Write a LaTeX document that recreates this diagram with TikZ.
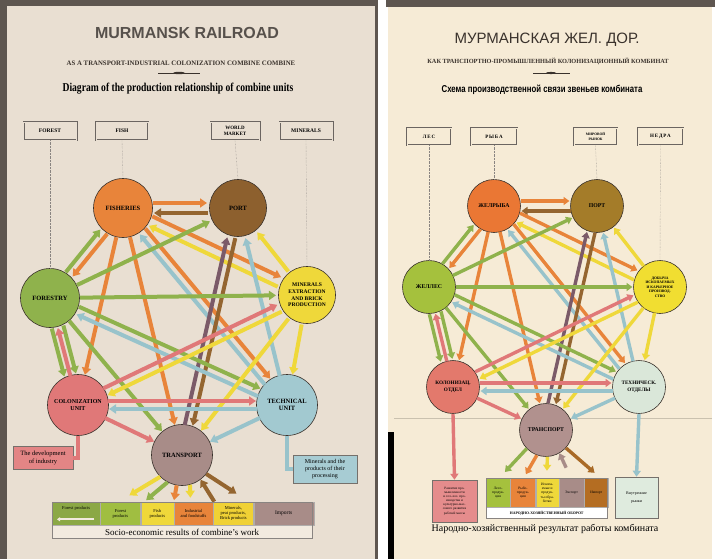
\documentclass[tikz,border=0pt]{standalone}
\usepackage{fontspec}
\setmainfont{Liberation Serif}
\newfontfamily\headfont{Liberation Sans}
\usetikzlibrary{arrows.meta,positioning,calc}

\definecolor{scan}{HTML}{5E5650}
\definecolor{pageL}{HTML}{E9DFD2}
\definecolor{pageR}{HTML}{F6EBD6}
\definecolor{ink}{HTML}{3A322C}
\definecolor{cOrange}{HTML}{E8843A}
\definecolor{cBrown}{HTML}{946530}
\definecolor{cPlum}{HTML}{7B5A68}
\definecolor{cGreen}{HTML}{8FB24C}
\definecolor{cGreenD}{HTML}{8BA845}
\definecolor{cYellow}{HTML}{EFD83A}
\definecolor{cPink}{HTML}{E07878}
\definecolor{cBlue}{HTML}{98C3CB}
\definecolor{cMauve}{HTML}{A88C88}
\definecolor{cream}{HTML}{F2EADF}

% arrows between the seven units, #1 = page prefix (L or R)
\newcommand{\unitlinks}[1]{%
  \foreach \src/\dst/\col/\off in {
      fish/port/cOrange/5pt, port/fish/cBrown/5pt,
      fish/wood/cOrange/4pt, wood/fish/cGreen/4pt,
      fish/colon/cOrange/0pt, fish/trans/cOrange/0pt,
      fish/tech/cOrange/4pt, tech/fish/cBlue/4pt,
      fish/mine/cOrange/5pt, mine/fish/cYellow/5pt,
      port/trans/cBrown/4pt, trans/port/cPlum/4pt,
      tech/port/cBlue/0pt, mine/port/cYellow/0pt, wood/port/cGreen/0pt,
      wood/mine/cGreen/0pt,
      wood/colon/cGreen/6pt, colon/wood/cPink/0pt, wood/colon/cGreen/-6pt,
      wood/tech/cGreen/4pt, tech/wood/cBlue/4pt, wood/trans/cGreen/0pt,
      mine/colon/cYellow/4pt, colon/mine/cPink/4pt,
      mine/trans/cYellow/0pt, mine/tech/cYellow/0pt,
      colon/tech/cPink/4pt, tech/colon/cBlue/4pt,
      colon/trans/cPink/0pt, tech/trans/cBlue/0pt}
    \draw[link=\col] ($(#1\src)!\off!90:(#1\dst)$) -- ($(#1\dst)!\off!-90:(#1\src)$);%
}

\begin{document}
\begin{tikzpicture}[x=1pt, y=-1pt,
  unit/.style={circle, draw=ink, line width=0.6pt, minimum size=59pt, inner sep=0pt,
               align=center, font=\fontsize{6.5}{7.5}\selectfont\bfseries},
  runit/.style={unit, minimum size=53pt, font=\fontsize{5.8}{6.8}\selectfont\bfseries},
  srcbox/.style={draw=ink!75, double=pageL, double distance=0.9pt, line width=0.55pt,
                 minimum width=53pt, minimum height=18pt, inner sep=1pt, align=center,
                 font=\fontsize{5.5}{6}\selectfont\bfseries},
  guide/.style={densely dotted, ink!60, line width=0.4pt},
  note/.style={draw=ink!70, line width=0.5pt, align=center, inner sep=1.5pt,
               font=\fontsize{6.5}{7.5}\selectfont},
  cell/.style={draw=ink!40, line width=0.3pt, minimum height=23pt, inner sep=0.5pt,
               align=center, font=\fontsize{4.5}{5}\selectfont},
  rcell/.style={cell, minimum height=29pt, font=\fontsize{3.6}{4.2}\selectfont},
  link/.style={draw=#1, line width=4pt, -{Triangle[width=9pt,length=7pt]},
               shorten <=30pt, shorten >=31pt},
  spout/.style={draw=#1, line width=4pt, -{Triangle[width=9pt,length=7pt]}},
  bar/.style={draw=#1, line width=4pt},
]
\useasboundingbox (0,0) rectangle (715,559);

%% ---- the two scanned pages -------------------------------------------------
\fill[white] (0,0) rectangle (715,559);
\fill[scan] (0,0) rectangle (378,559);
\fill[pageL] (7,6) rectangle (375,559);
\fill[scan] (386,0) rectangle (715,7);
\fill[pageR] (388,7) rectangle (712,559);
\fill[black] (388,432) rectangle (394,559);
\draw[pageR!82!black, line width=0.6pt] (394,418) -- (712,418);

%% ==== English page =========================================================
\node[font=\headfont\fontsize{16}{18}\selectfont\bfseries, text=ink!85] (Ltitle) at (187,33) {MURMANSK RAILROAD};
\node[font=\fontsize{6.8}{8}\selectfont\bfseries, text=ink] (Lsub) at (181,63)
  {AS A TRANSPORT-INDUSTRIAL COLONIZATION COMBINE COMBINE};
\draw[ink, line width=0.5pt] (158,73) -- (200,73);
\fill[ink] (179,73) ellipse (6pt and 1.2pt);
\node[font=\fontsize{12}{14}\selectfont\bfseries] (Lhead) at (178,89)
  {\scalebox{0.8}[1]{Diagram of the production relationship of combine units}};

%% ---- sources ----
\node[srcbox] (Lforest) at (50,131) {FOREST};
\node[srcbox, minimum width=52pt] (Lfishsrc) at (122,131) {FISH};
\node[srcbox, minimum width=49pt, font=\fontsize{5}{5.5}\selectfont\bfseries] (Lworld) at (235,131) {WORLD\\MARKET};
\node[srcbox] (Lminsrc) at (306,131) {MINERALS};

%% ---- units ----
\node[unit, fill=cOrange] (Lfish) at (123,208) {FISHERIES};
\node[unit, fill=cBrown!95!black, minimum size=57pt] (Lport) at (238,208) {PORT};
\node[unit, fill=cGreen] (Lwood) at (50,298) {FORESTRY};
\node[unit, fill=cYellow, minimum size=57pt, font=\fontsize{5.5}{6.8}\selectfont\bfseries] (Lmine) at (307,295)
  {MINERALS\\EXTRACTION\\AND BRICK\\PRODUCTION};
\node[unit, fill=cPink, minimum size=61pt, font=\fontsize{6}{7.5}\selectfont\bfseries] (Lcolon) at (78,405) {COLONIZATION\\UNIT};
\node[unit, fill=cBlue!90!white, minimum size=61pt] (Ltech) at (287,405) {TECHNICAL\\UNIT};
\node[unit, fill=cMauve, minimum size=61pt] (Ltrans) at (182,455) {TRANSPORT};

\draw[guide] (Lforest.south) -- (Lwood.north);
\draw[guide] (Lfishsrc.south) -- (Lfish.north);
\draw[guide] (Lworld.south) -- (Lport.north);
\draw[guide] (Lminsrc.south) -- (Lmine.north);

\unitlinks{L}

%% ---- results ----
\node[note, fill=cPink!90!white, minimum width=60pt, minimum height=23pt] (Ldev) at (43,458)
  {The development\\of industry};
\node[note, fill=cBlue!85!white, minimum width=64pt, minimum height=28pt, font=\fontsize{6}{7}\selectfont] (Lmin) at (325,469)
  {Minerals and the\\products of their\\processing};
\draw[bar=cPink] (Lcolon.south) |- (Ldev.east);
\draw[bar=cBlue] (Ltech.south) |- (Lmin.west);

\draw[spout=cYellow] (Ltrans.-135) -- ++(-149:36pt);
\draw[spout=cGreen] (Ltrans.-118) -- ++(-140:28pt);
\draw[spout=cOrange] (Ltrans.-100) -- ++(-100:15pt);
\draw[spout=cYellow] (Ltrans.-75) -- ++(-88:13pt);
\draw[spout=cBrown] ($(Ltrans.-53)+(-58:26pt)$) -- (Ltrans.-53);
\draw[spout=cBrown] (Ltrans.-38) -- ++(-33:36pt);

\node[cell, fill=cGreenD, minimum width=48pt, anchor=north west] (Lc1) at (52,502) {Forest products\\[7pt]};
\draw[line width=2pt, cream, -{Triangle[width=4pt,length=3pt]}] ($(Lc1.south east)+(-6pt,6pt)$) -- ($(Lc1.south west)+(5pt,6pt)$);
\node[cell, fill=cGreen!85!yellow, minimum width=40pt, right=0pt of Lc1] (Lc2) {Forest\\products};
\node[cell, fill=cYellow, minimum width=33pt, right=0pt of Lc2] (Lc3) {Fish\\products};
\node[cell, fill=cOrange, minimum width=39pt, right=0pt of Lc3] (Lc4) {Industrial\\and foodstuffs};
\node[cell, fill=cYellow!92!orange, minimum width=40pt, right=0pt of Lc4] (Lc5) {Minerals,\\peat products,\\Brick products};
\node[cell, fill=cMauve, minimum width=60pt, right=0pt of Lc5, font=\fontsize{5.5}{6}\selectfont] (Lc6) {Imports};
\node[cell, fill=cream, minimum width=260pt, minimum height=13pt, anchor=north west,
      font=\fontsize{9}{10}\selectfont] (Lres) at (Lc1.south west) {Socio-economic results of combine's work};
\draw[ink!60, line width=0.8pt] (Lc1.north west) rectangle (Lres.south east);

%% ==== Russian page =========================================================
\begin{scope}[srcbox/.append style={double=pageR, minimum width=45pt, minimum height=17pt,
                                    font=\fontsize{5}{5.5}\selectfont\bfseries},
              link/.append style={line width=3.4pt, -{Triangle[width=8pt,length=6pt]},
                                  shorten <=26.5pt, shorten >=27.5pt},
              spout/.append style={line width=3.4pt, -{Triangle[width=8pt,length=6pt]}}]
\node[font=\headfont\fontsize{15}{17}\selectfont, text=ink] (Rtitle) at (547,40) {МУРМАНСКАЯ ЖЕЛ. ДОР.};
\node[font=\fontsize{6.3}{7}\selectfont\bfseries, text=ink] (Rsub) at (548,61)
  {КАК ТРАНСПОРТНО-ПРОМЫШЛЕННЫЙ КОЛОНИЗАЦИОННЫЙ КОМБИНАТ};
\draw[ink, line width=0.5pt] (533,73) -- (570,73);
\fill[ink] (551,73) ellipse (5pt and 1.1pt);
\node[font=\headfont\fontsize{10}{12}\selectfont\bfseries] (Rhead) at (542,90)
  {\scalebox{0.78}[1]{Схема производственной связи звеньев комбината}};

%% ---- sources ----
\node[srcbox, minimum width=44pt] (Rforest) at (429,136.5) {Л\,Е\,С};
\node[srcbox, minimum width=46pt] (Rfishsrc) at (494,136.5) {Р\,Ы\,Б\,А};
\node[srcbox, minimum width=43pt, font=\fontsize{3.6}{4.2}\selectfont\bfseries] (Rworld) at (595.5,136.5) {МИРОВОЙ\\РЫНОК};
\node[srcbox] (Rminsrc) at (660.5,136.5) {Н\,Е\,Д\,Р\,А};

%% ---- units ----
\node[runit, fill=cOrange!90!red] (Rfish) at (494,206) {ЖЕЛРЫБА};
\node[runit, fill=cBrown!85!yellow] (Rport) at (597,206) {ПОРТ};
\node[runit, fill=cGreen!80!yellow] (Rwood) at (429,287) {ЖЕЛЛЕС};
\node[runit, fill=cYellow!85!yellow, font=\fontsize{3.7}{4.4}\selectfont\bfseries] (Rmine) at (660,287)
  {ДОБЫЧА\\ИСКОПАЕМЫХ\\И КАРЬЕРНОЕ\\ПРОИЗВОД-\\СТВО};
\node[runit, fill=cPink!90!orange, font=\fontsize{5.2}{6.4}\selectfont\bfseries] (Rcolon) at (453,387) {КОЛОНИЗАЦ.\\ОТДЕЛ};
\node[runit, fill=cBlue!55!cGreen!35!white, font=\fontsize{5.2}{6.4}\selectfont\bfseries] (Rtech) at (639,387) {ТЕХНИЧЕСК.\\ОТДЕЛЫ};
\node[runit, fill=cMauve!90!pink] (Rtrans) at (546,430) {ТРАНСПОРТ};

\draw[guide] (Rforest.south) -- (Rwood.north);
\draw[guide] (Rfishsrc.south) -- (Rfish.north);
\draw[guide] (Rworld.south) -- (Rport.north);
\draw[guide] (Rminsrc.south) -- (Rmine.north);

\unitlinks{R}

%% ---- results ----
\node[note, fill=cPink!85!white, minimum width=45pt, minimum height=42pt,
      font=\fontsize{3.4}{4.1}\selectfont] (Rdev) at (454.5,501)
  {Развитие про-\\мышленности\\и сел.-хоз. про-\\изводства и\\культурно-мас-\\сового развития\\рабочей массы};
\node[note, fill=cBlue!55!cGreen!30!white, minimum width=43pt, minimum height=41pt,
      font=\fontsize{4}{8}\selectfont] (Rhome) at (636.5,497.5) {Внутренние\\рынки};
\draw[spout=cPink] (Rcolon.south) -- (Rdev.north);
\draw[spout=cBlue] (Rtech.south) -- (Rhome.north);

\draw[spout=cGreen] (Rtrans.-136) -- ++(-133:32pt);
\draw[spout=cOrange] (Rtrans.-110) -- ++(-120:22pt);
\draw[spout=cYellow] (Rtrans.-87) -- ++(-92:14pt);
\draw[spout=cMauve] ($(Rtrans.-60)+(-65:16pt)$) -- (Rtrans.-60);
\draw[spout=cBrown!80!orange] (Rtrans.-42) -- ++(-41:38pt);

\node[rcell, fill=cGreen!80!yellow, minimum width=24pt, anchor=north west] (Rc1) at (486,478) {Лесо-\\продук-\\ция};
\node[rcell, fill=cOrange, minimum width=25pt, right=0pt of Rc1] (Rc2) {Рыбо-\\продук-\\ция};
\node[rcell, fill=cYellow, minimum width=23pt, right=0pt of Rc2] (Rc3) {Ископа-\\емые и\\продук-\\ты обра-\\ботки};
\node[rcell, fill=cMauve, minimum width=25pt, right=0pt of Rc3] (Rc4) {Экспорт};
\node[rcell, fill=cBrown!70!orange, minimum width=24pt, right=0pt of Rc4] (Rc5) {Импорт};
\node[rcell, fill=white, minimum width=121pt, minimum height=11pt, anchor=north west,
      font=\fontsize{3.8}{4.2}\selectfont\bfseries] (Rturn) at (Rc1.south west) {НАРОДНО-ХОЗЯЙСТВЕННЫЙ ОБОРОТ};
\draw[ink!60, line width=0.8pt] (Rc1.north west) rectangle (Rturn.south east);

\node[font=\fontsize{10}{12}\selectfont] (Rresult) at (545,529)
  {Народно-хозяйственный результат работы комбината};
\end{scope}

\end{tikzpicture}
\end{document}
